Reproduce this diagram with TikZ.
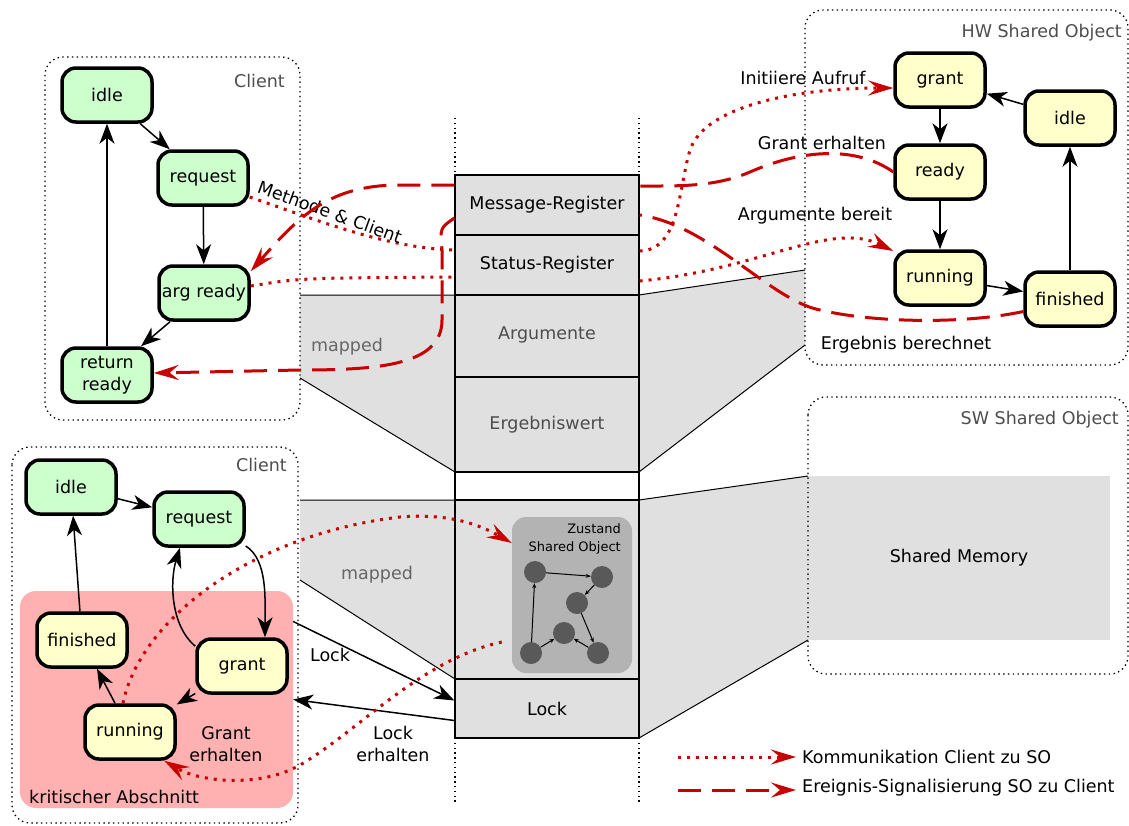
\documentclass[tikz,border=0pt]{standalone}
\usepackage{fontspec}
\setmainfont{DejaVu Sans}
\usetikzlibrary{arrows.meta}

\definecolor{stategreen}{RGB}{204,255,204}
\definecolor{stateyellow}{RGB}{255,255,204}
\definecolor{kritred}{RGB}{255,176,176}
\definecolor{regfill}{RGB}{224,224,224}
\definecolor{zfill}{RGB}{179,179,179}
\definecolor{dotfill}{RGB}{89,89,89}
\definecolor{sored}{RGB}{200,0,0}
\definecolor{labelgray}{RGB}{77,77,77}
\definecolor{mappedgray}{RGB}{102,102,102}

\begin{document}
\begin{tikzpicture}[x=1pt,y=-1pt,
  every node/.style={font=\fontsize{17.5}{21.7}\selectfont},
  clientstate/.style={draw,line width=3.5pt,rounded corners=14pt,fill=stategreen,
    minimum width=90pt,minimum height=54pt,inner sep=2pt,align=center},
  sostate/.style={clientstate,fill=stateyellow},
  trans/.style={-{Stealth[length=20pt,width=15pt,inset=6pt]},line width=1.5pt},
  reg/.style={draw,line width=1.2pt,fill=regfill,minimum width=184pt,inner sep=0pt},
  box/.style={dash pattern=on 1.4pt off 3.4pt,line width=1.3pt,rounded corners=18pt},
  coldots/.style={dash pattern=on 1.4pt off 3.4pt,line width=1.3pt},
  grouplabel/.style={text=labelgray,inner sep=0pt},
  plain/.style={inner sep=0pt,align=center},
  comm/.style={draw=sored,line width=3pt,dash pattern=on 3pt off 6pt},
  evt/.style={draw=sored,line width=3pt,dash pattern=on 23pt off 11pt},
  redhead/.style={-{Stealth[length=25pt,width=15pt,inset=9pt]}},
  sodot/.style={circle,fill=dotfill,minimum size=22pt,inner sep=0pt},
  dotarrow/.style={-{Stealth[length=5pt,width=4pt]},line width=1pt}]

  \useasboundingbox (0,0) rectangle (1129,825);

  % mapped areas
  \path[fill=regfill,draw=black,line width=1pt] (300,378) -- (455,472) -- (455,295) -- (300,295);
  \path[fill=regfill,draw=black,line width=1pt] (805,345) -- (639,472) -- (639,295) -- (805,270);
  \path[fill=regfill,draw=black,line width=1pt] (300,580) -- (455,679) -- (455,500) -- (300,500);
  \path[fill=regfill,draw=black,line width=1pt] (808,640) -- (639,738) -- (639,500) -- (808,476);
  \node[fill=regfill,minimum width=302pt,minimum height=164pt,inner sep=0pt] (shm) at (959,558) {Shared Memory};

  % memory column
  \foreach \x in {455,639} {
    \draw[coldots] (\x,118) -- (\x,175);
    \draw[coldots] (\x,738) -- (\x,805);
    \draw[line width=1.2pt] (\x,472) -- (\x,500);
  }
  \node[reg,minimum height=60pt] (msg) at (547,205) {\raisebox{3pt}{Message-Register}};
  \node[reg,minimum height=60pt] (stat) at (547,265) {\raisebox{3pt}{Status-Register}};
  \node[reg,minimum height=82pt,text=labelgray] (args) at (547,336) {\raisebox{5pt}{Argumente}};
  \node[reg,minimum height=95pt,text=labelgray] (res) at (547,424.5) {Ergebniswert};
  \node[reg,minimum height=179pt] (soarea) at (547,589.5) {};
  \node[reg,minimum height=59pt] (lock) at (547,708.5) {Lock};

  \node[fill=zfill,rounded corners=14pt,minimum width=120pt,minimum height=156pt] (zst) at (572,595) {};
  \node[anchor=north east,align=right,inner sep=0pt,font=\fontsize{13}{18}\selectfont] (zstlabel) at (621,523) {Zustand\\Shared Object};
  \foreach \n/\x/\y in {z1/535/572,z2/602/577,z3/577/603,z4/564/633,z5/531/653,z6/598/653}
    \node[sodot] (\n) at (\x,\y) {};
  \foreach \a/\b in {z1/z2,z2/z3,z3/z6,z6/z4,z5/z4,z5/z1}
    \draw[dotarrow] (\a) -- (\b);

  % groups
  \node[fill=kritred,rounded corners=16pt,minimum width=273pt,minimum height=217pt,inner sep=0pt] (krit) at (156.5,699.5) {};
  \draw[box] (45,57) rectangle (300,420);
  \draw[box] (12,447) rectangle (298,823);
  \draw[box] (805,10) rectangle (1128,365);
  \draw[box] (808,397) rectangle (1128,674);
  \node[grouplabel,anchor=east] (ctoplabel) at (285,81) {Client};
  \node[grouplabel,anchor=east] (cbotlabel) at (287,465) {Client};
  \node[grouplabel,anchor=east] (hwlabel) at (1122,33) {HW Shared Object};
  \node[grouplabel,anchor=east] (swlabel) at (1119,420) {SW Shared Object};
  \node[plain,anchor=west] (kritlabel) at (29,797) {kritischer Abschnitt};
  \node[plain,text=mappedgray] (maptop) at (347,347) {mapped};
  \node[plain,text=mappedgray] (mapbot) at (377,575) {mapped};

  % client (top)
  \node[clientstate] (cidle) at (107,95) {idle};
  \node[clientstate] (creq) at (203,178) {request};
  \node[clientstate] (carg) at (204,293) {arg ready};
  \node[clientstate] (cret) at (107,375) {return\\ready};
  \draw[trans] (cidle) -- (creq);
  \draw[trans] (creq) -- (carg);
  \draw[trans] (carg) -- (cret);
  \draw[trans] (cret) -- (cidle);

  % HW shared object
  \node[sostate] (hgrant) at (940,80) {grant};
  \node[sostate] (hidle) at (1070,118) {idle};
  \node[sostate] (hready) at (940,172) {ready};
  \node[sostate] (hrun) at (940,278) {running};
  \node[sostate] (hfin) at (1070,299) {finished};
  \draw[trans] (hgrant) -- (hready);
  \draw[trans] (hready) -- (hrun);
  \draw[trans] (hrun) -- (hfin);
  \draw[trans] (hfin) -- (hidle);
  \draw[trans] (hidle) -- (hgrant);

  % client (bottom)
  \node[clientstate] (bidle) at (71,487) {idle};
  \node[clientstate] (breq) at (199,519) {request};
  \node[sostate] (bfin) at (82,640) {finished};
  \node[sostate] (bgrant) at (242,666) {grant};
  \node[sostate] (brun) at (130,732) {running};
  \draw[trans] (bidle) -- (breq);
  \draw[trans] (breq.-30) .. controls (268,560) and (265,600) .. ([xshift=23pt]bgrant.north);
  \draw[trans] (bgrant.157) .. controls (170,625) and (170,580) .. ([xshift=-19pt]breq.south);
  \draw[trans] (bgrant) -- (brun);
  \draw[trans] (brun) -- (bfin);
  \draw[trans] (bfin) -- (bidle);

  % lock
  \draw[trans] ([yshift=78pt]krit.east) -- ([yshift=8pt]lock.west);
  \draw[trans] ([yshift=-12pt]lock.west) -- (krit.east);
  \node[plain] (locklabel) at (330,655) {Lock};
  \node[plain] (lockok) at (393,744) {Lock\\erhalten};
  \node[plain] (grantok) at (226,744) {Grant\\erhalten};

  % client -> SO
  \draw[comm] ([yshift=-19pt]creq.east) .. controls (330,225) and (390,248) .. ([yshift=15pt]stat.west);
  \node[plain,rotate=-20] (methlabel) at (330,212) {Methode \& Client};
  \draw[comm] ([yshift=7pt]carg.east) .. controls (300,278) .. ([yshift=-12pt]stat.west);
  \draw[comm,redhead] ([yshift=14pt]stat.east) .. controls (680,250) and (678,190) .. (690,150)
    .. controls (705,105) and (800,88) .. ([yshift=-8pt]hgrant.west);
  \draw[comm,redhead] ([yshift=-16pt]stat.east) .. controls (760,270) and (830,220) .. (hrun.150);
  \draw[comm,redhead] ([xshift=-7pt]brun.north) .. controls (140,620) and (250,535) .. (400,517)
    .. controls (450,513) and (480,525) .. ([yshift=52pt]zst.west);
  \draw[comm,redhead] ([xshift=-10pt,yshift=-47pt]zst.west) .. controls (420,660) and (360,730) .. (300,765)
    .. controls (260,788) and (200,782) .. (brun.-40);
  \node[plain] (initlabel) at (803,78) {Initiiere Aufruf};
  \node[plain] (arglabel) at (815,216) {Argumente bereit};

  % SO -> client
  \draw[evt,redhead] ([yshift=20pt]msg.west) -- (400,185) .. controls (330,185) and (300,215) .. (carg.25);
  \draw[evt,redhead] ([yshift=-13pt]msg.west) .. controls (440,228) .. (442,250) -- (442,320)
    .. controls (442,365) and (380,370) .. (300,370) -- ([yshift=2pt]cret.east);
  \draw[evt] (hready.west) .. controls (855,145) and (800,150) .. (750,172)
    .. controls (715,187) and (680,186) .. ([yshift=19pt]msg.east);
  \draw[evt] (hfin.195) .. controls (960,325) and (870,322) .. (820,310)
    .. controls (770,300) and (710,225) .. ([yshift=-10pt]msg.east);
  \node[plain] (grantlabel) at (822,143) {Grant erhalten};
  \node[plain] (reslabel) at (906,345) {Ergebnis berechnet};

  % legend
  \node[plain,anchor=west] (leg1) at (802,757) {Kommunikation Client zu SO};
  \node[plain,anchor=west] (leg2) at (802,788) {Ereignis-Signalisierung SO zu Client};
  \coordinate (leg1s) at (678,757);
  \coordinate (leg2s) at (678,790);
  \draw[comm,redhead] (leg1s) -- ([xshift=-6pt]leg1.west);
  \draw[evt,redhead] (leg2s) -- ([xshift=-6pt,yshift=-2pt]leg2.west);
\end{tikzpicture}
\end{document}
